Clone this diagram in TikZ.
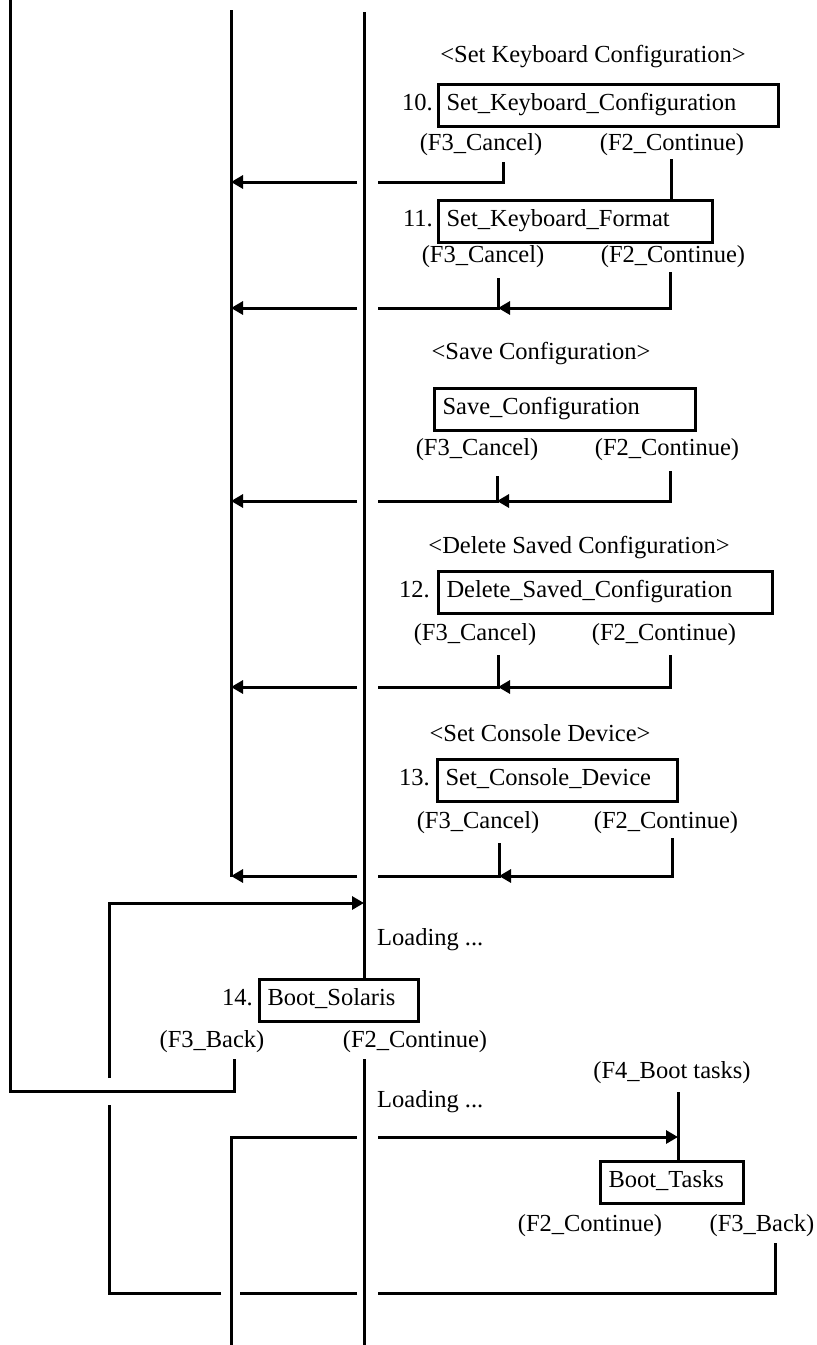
\documentclass[tikz,border=0pt]{standalone}
\usepackage{fontspec}
\setmainfont{Liberation Serif}
\usetikzlibrary{arrows.meta}
\begin{document}
\begin{tikzpicture}[x=1pt,y=-1pt,
  wire/.style={line width=3pt},
  retarrow/.style={wire, -{Triangle[length=12pt,width=13pt]}},
  txt/.style={inner sep=0pt, font=\fontsize{24.5}{28}\selectfont, text height=16pt, text depth=6pt},
  screen/.style={txt, draw, line width=3pt, anchor=west, inner xsep=8pt, minimum height=42pt, text width=#1, align=left},
  num/.style={txt, anchor=east},
]
\useasboundingbox[fill=white] (0,0) rectangle (817,1345);

% fixed columns: lifelines and the gaps where lines cross them
\coordinate (L0top) at (10,0);
\coordinate (L1top) at (231,10);
\coordinate (L1bot) at (231,877);
\coordinate (L2top) at (364,12);
\coordinate (gL) at (357,0);
\coordinate (gR) at (378,0);
\coordinate (h1L) at (221,0);
\coordinate (h1R) at (240,0);

% 10. Set_Keyboard_Configuration
\node[txt] (t10) at (593,57) {<Set Keyboard Configuration>};
\node[screen=324pt] (b10) at (437,105) {Set\_Keyboard\_Configuration};
\node[num] (n10) at (433,105) {10.};
\node[txt] (c10) at (481,145) {(F3\_Cancel)};
\node[txt] (k10) at (672,145) {(F2\_Continue)};
\coordinate (c10s) at (503,162);
\coordinate (c10r) at (503,182);
\coordinate (k10s) at (671,159);

% 11. Set_Keyboard_Format
\node[screen=258pt] (b11) at (437,221) {Set\_Keyboard\_Format};
\node[num] (n11) at (433,221) {11.};
\node[txt] (c11) at (483,257) {(F3\_Cancel)};
\node[txt] (k11) at (673,257) {(F2\_Continue)};
\coordinate (c11s) at (498,278);
\coordinate (c11r) at (498,308);
\coordinate (k11s) at (670,272);

% Save_Configuration
\node[txt] (tsc) at (541,354) {<Save Configuration>};
\node[screen=245pt] (bsc) at (433,409) {Save\_Configuration};
\node[txt] (csc) at (477,450) {(F3\_Cancel)};
\node[txt] (ksc) at (667,450) {(F2\_Continue)};
\coordinate (cscs) at (497,476);
\coordinate (cscr) at (497,501);
\coordinate (kscs) at (670,471);

% 12. Delete_Saved_Configuration
\node[txt] (t12) at (579,548) {<Delete Saved Configuration>};
\node[screen=318pt] (b12) at (437,592) {Delete\_Saved\_Configuration};
\node[num] (n12) at (430,592) {12.};
\node[txt] (c12) at (475,635) {(F3\_Cancel)};
\node[txt] (k12) at (664,635) {(F2\_Continue)};
\coordinate (c12s) at (498,655);
\coordinate (c12r) at (498,687);
\coordinate (k12s) at (670,655);

% 13. Set_Console_Device
\node[txt] (t13) at (540,736) {<Set Console Device>};
\node[screen=224pt] (b13) at (436,780) {Set\_Console\_Device};
\node[num] (n13) at (430,780) {13.};
\node[txt] (c13) at (478,823) {(F3\_Cancel)};
\node[txt] (k13) at (666,823) {(F2\_Continue)};
\coordinate (c13s) at (499,843);
\coordinate (c13r) at (499,876);
\coordinate (k13s) at (672,838);

% lifelines
\draw[wire] (L1top) -- (L1bot);

% cancel paths back to the left lifeline
\draw[wire] (c10s) -- (c10r) -- (c10r -| gR);
\draw[retarrow] (c10r -| gL) -- (c10r -| L1top);
\draw[wire] (k10s) -- (k10s |- b11.north);

\draw[wire] (c11s) -- (c11r) -- (c11r -| gR);
\draw[retarrow] (c11r -| gL) -- (c11r -| L1top);
\draw[retarrow] (k11s) -- (k11s |- c11r) -- (c11r);

\draw[wire] (cscs) -- (cscr) -- (cscr -| gR);
\draw[retarrow] (cscr -| gL) -- (cscr -| L1top);
\draw[retarrow] (kscs) -- (kscs |- cscr) -- (cscr);

\draw[wire] (c12s) -- (c12r) -- (c12r -| gR);
\draw[retarrow] (c12r -| gL) -- (c12r -| L1top);
\draw[retarrow] (k12s) -- (k12s |- c12r) -- (c12r);

\draw[wire] (c13s) -- (c13r) -- (c13r -| gR);
\draw[retarrow] (c13r -| gL) -- (c13r -| L1top);
\draw[retarrow] (k13s) -- (k13s |- c13r) -- (c13r);

% 14. Boot_Solaris
\coordinate (L3top) at (109,903);
\coordinate (L3gapA) at (109,1078);
\coordinate (L3gapB) at (109,1105);
\coordinate (L3bot) at (109,1293);
\node[txt, anchor=west] (ld1) at (377,940) {Loading ...};
\node[screen=143pt] (b14) at (258,1000) {Boot\_Solaris};
\node[num] (n14) at (253,1000) {14.};
\node[txt] (c14) at (212,1042) {(F3\_Back)};
\node[txt] (k14) at (415,1042) {(F2\_Continue)};
\coordinate (c14s) at (234,1059);
\coordinate (c14r) at (234,1091);
\coordinate (k14s) at (364,1059);
\coordinate (L2bot) at (364,1345);

\draw[wire] (L2top) -- (L2top |- b14.north);
\draw[retarrow] (L3gapA) -- (L3top) -- (L3top -| L2top);
\draw[wire] (c14s) -- (c14r) -- (c14r -| L0top) -- (L0top);
\draw[wire] (k14s) -- (L2bot);

% Boot_Tasks
\node[txt] (f4) at (672,1073) {(F4\_Boot tasks)};
\node[txt, anchor=west] (ld2) at (377,1102) {Loading ...};
\node[screen=127pt] (bt) at (599,1182) {Boot\_Tasks};
\node[txt] (ct) at (590,1226) {(F2\_Continue)};
\node[txt] (kt) at (762,1226) {(F3\_Back)};
\coordinate (f4s) at (678,1092);
\coordinate (L1low) at (231,1345);
\coordinate (L1turn) at (231,1137);
\coordinate (kts) at (775,1243);
\coordinate (ktr) at (775,1293);

\draw[wire] (f4s) -- (f4s |- bt.north);
\draw[wire] (L1low) -- (L1turn) -- (L1turn -| gL);
\draw[retarrow] (L1turn -| gR) -- (L1turn -| f4s);
\draw[wire] (kts) -- (ktr) -- (ktr -| gR);
\draw[wire] (ktr -| gL) -- (ktr -| h1R);
\draw[wire] (ktr -| h1L) -- (L3bot) -- (L3gapB);
\end{tikzpicture}
\end{document}
